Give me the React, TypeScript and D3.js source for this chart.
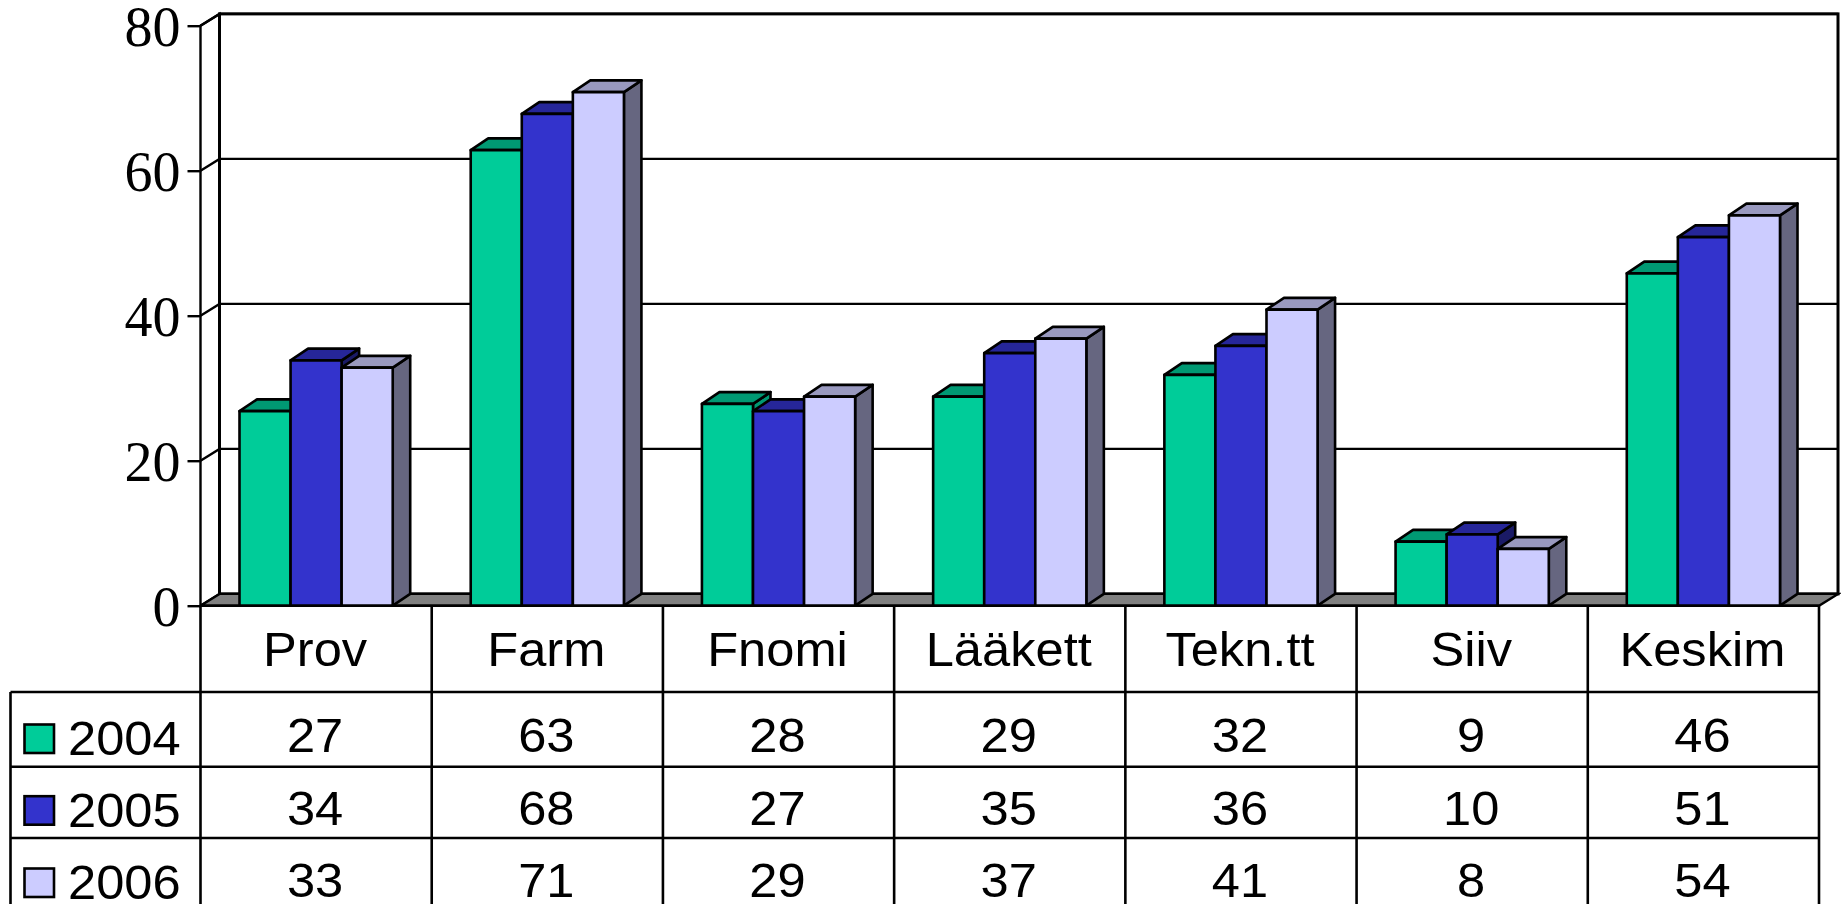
import React, { useEffect, useRef } from 'react'
import { select, scaleLinear, scaleBand, axisLeft, line } from 'd3'

const categories = ['Prov', 'Farm', 'Fnomi', 'Lääkett', 'Tekn.tt', 'Siiv', 'Keskim']
const seriesNames = ['2004', '2005', '2006']
const values2004 = [27, 63, 28, 29, 32, 9, 46]
const values2005 = [34, 68, 27, 35, 36, 10, 51]
const values2006 = [33, 71, 29, 37, 41, 8, 54]
const yTicks = [0, 20, 40, 60, 80]
const frontColors = ['#00CC99', '#3333CC', '#CCCCFF']
const topColors = ['#009973', '#262699', '#9999BF']
const sideColors = ['#009973', '#1A1A66', '#666680']

const seriesValues = [values2004, values2005, values2006]

const DX = 19
const DY = -11.8
const BAR_DX = 17.5
const BAR_SINK = 1.2
const LEFT = 200.5
const RIGHT = 1819
const BOTTOM = 605.7
const TOP = 25.7
const SANS = '"Liberation Sans", Arial, sans-serif'
const SERIF = '"Liberation Serif", "Times New Roman", serif'
const SANS_SIZE = 48
const SANS_STRETCH = 1.055

const rowBottoms = [692, 766.7, 838]
const rowBaselines = [752, 825, 897]
const legendBaselines = [755, 826.7, 899]

function App() {
    const svgRef = useRef<SVGSVGElement>(null)

    useEffect(() => {
        const svg = select(svgRef.current)
        svg.selectAll('*').remove()

        const yScale = scaleLinear().domain([0, 80]).range([BOTTOM, TOP])
        const xScale = scaleBand().domain(categories).range([LEFT, RIGHT])
        const barScale = scaleBand().domain(seriesNames).range([39, xScale.bandwidth() - 39])
        const path = line()

        // walls
        svg.append('path')
            .attr('d', path([[LEFT, BOTTOM], [LEFT + DX, BOTTOM + DY], [LEFT + DX, TOP + DY], [LEFT, TOP]]) + 'Z')
            .attr('fill', '#fff').attr('stroke', '#000').attr('stroke-width', 2.4)
        svg.append('rect')
            .attr('x', LEFT + DX).attr('y', TOP + DY)
            .attr('width', RIGHT - LEFT).attr('height', BOTTOM - TOP)
            .attr('fill', '#fff').attr('stroke', '#000').attr('stroke-width', 3)

        // floor
        svg.append('path')
            .attr('d', path([[LEFT, BOTTOM], [LEFT + DX, BOTTOM + DY], [RIGHT + DX, BOTTOM + DY], [RIGHT, BOTTOM]]) + 'Z')
            .attr('fill', '#808080').attr('stroke', '#000').attr('stroke-width', 2.4)

        // gridlines on both walls
        yTicks.filter(t => t > 0).forEach(t => {
            svg.append('path')
                .attr('d', path([[LEFT, yScale(t)], [LEFT + DX, yScale(t) + DY], [RIGHT + DX, yScale(t) + DY]]))
                .attr('fill', 'none').attr('stroke', '#000').attr('stroke-width', 2.4)
        })

        // y axis
        const yAxis = axisLeft(yScale).tickValues(yTicks).tickSize(13).tickPadding(7)
        const gy = svg.append('g').attr('transform', `translate(${LEFT},0)`).call(yAxis)
        gy.select('.domain').remove()
        gy.selectAll('line').attr('stroke', '#000').attr('stroke-width', 2.4)
        gy.selectAll('text')
            .attr('font-family', SERIF).attr('font-size', 56).attr('fill', '#000')
            .attr('dy', 20)

        // bars
        categories.forEach((cat, c) => {
            const group = svg.append('g').attr('class', 'bars')
            seriesNames.forEach((name, s) => {
                const x0 = xScale(cat)! + barScale(name)!
                const x1 = x0 + barScale.bandwidth()
                const yTop = yScale(seriesValues[s][c]) + BAR_SINK
                const g = group.append('g').attr('stroke', '#000').attr('stroke-width', 2.6).attr('stroke-linejoin', 'round')
                g.append('path')
                    .attr('d', path([[x1, BOTTOM], [x1 + BAR_DX, BOTTOM + DY], [x1 + BAR_DX, yTop + DY], [x1, yTop]]) + 'Z')
                    .attr('fill', sideColors[s])
                g.append('path')
                    .attr('d', path([[x0, yTop], [x0 + BAR_DX, yTop + DY], [x1 + BAR_DX, yTop + DY], [x1, yTop]]) + 'Z')
                    .attr('fill', topColors[s])
                g.append('rect')
                    .attr('x', x0).attr('y', yTop)
                    .attr('width', barScale.bandwidth()).attr('height', BOTTOM - yTop)
                    .attr('fill', frontColors[s])
            })
        })

        // data table
        const table = svg.append('g').attr('stroke', '#000').attr('stroke-width', 2.6).attr('fill', 'none')
        const rule = (x1: number, y1: number, x2: number, y2: number) =>
            table.append('line').attr('x1', x1).attr('y1', y1).attr('x2', x2).attr('y2', y2)
        rule(LEFT, BOTTOM, RIGHT, BOTTOM)
        rowBottoms.forEach(y => rule(10.5, y, RIGHT, y))
        rule(10.5, rowBottoms[0], 10.5, 904)
        rule(LEFT, BOTTOM, LEFT, 904)
        categories.forEach(cat => {
            const x = xScale(cat)! + xScale.bandwidth()
            rule(x, BOTTOM, x, 904)
        })

        const sansText = (label: string, x: number, y: number, anchor: string) =>
            svg.append('text')
                .attr('transform', `translate(${x},${y}) scale(${SANS_STRETCH},1)`)
                .attr('text-anchor', anchor)
                .attr('font-family', SANS).attr('font-size', SANS_SIZE).attr('fill', '#000')
                .text(label)

        categories.forEach((cat, c) => {
            const cx = xScale(cat)! + xScale.bandwidth() / 2
            sansText(cat, cx - 1, 666, 'middle')
            seriesValues.forEach((vals, s) => sansText(String(vals[c]), cx - 1, rowBaselines[s], 'middle'))
        })

        // legend keys
        seriesNames.forEach((name, s) => {
            svg.append('rect')
                .attr('x', 24.5).attr('y', legendBaselines[s] - 30.5)
                .attr('width', 29.5).attr('height', 28.5)
                .attr('fill', frontColors[s]).attr('stroke', '#000').attr('stroke-width', 2.6)
            sansText(name, 68, legendBaselines[s], 'start')
        })
    }, [])

    return (
        <svg
            ref={svgRef}
            width={1841}
            height={904}
            style={{ position: 'absolute', left: 0, top: 0, display: 'block', background: '#fff' }}
        />
    )
}

export default App
